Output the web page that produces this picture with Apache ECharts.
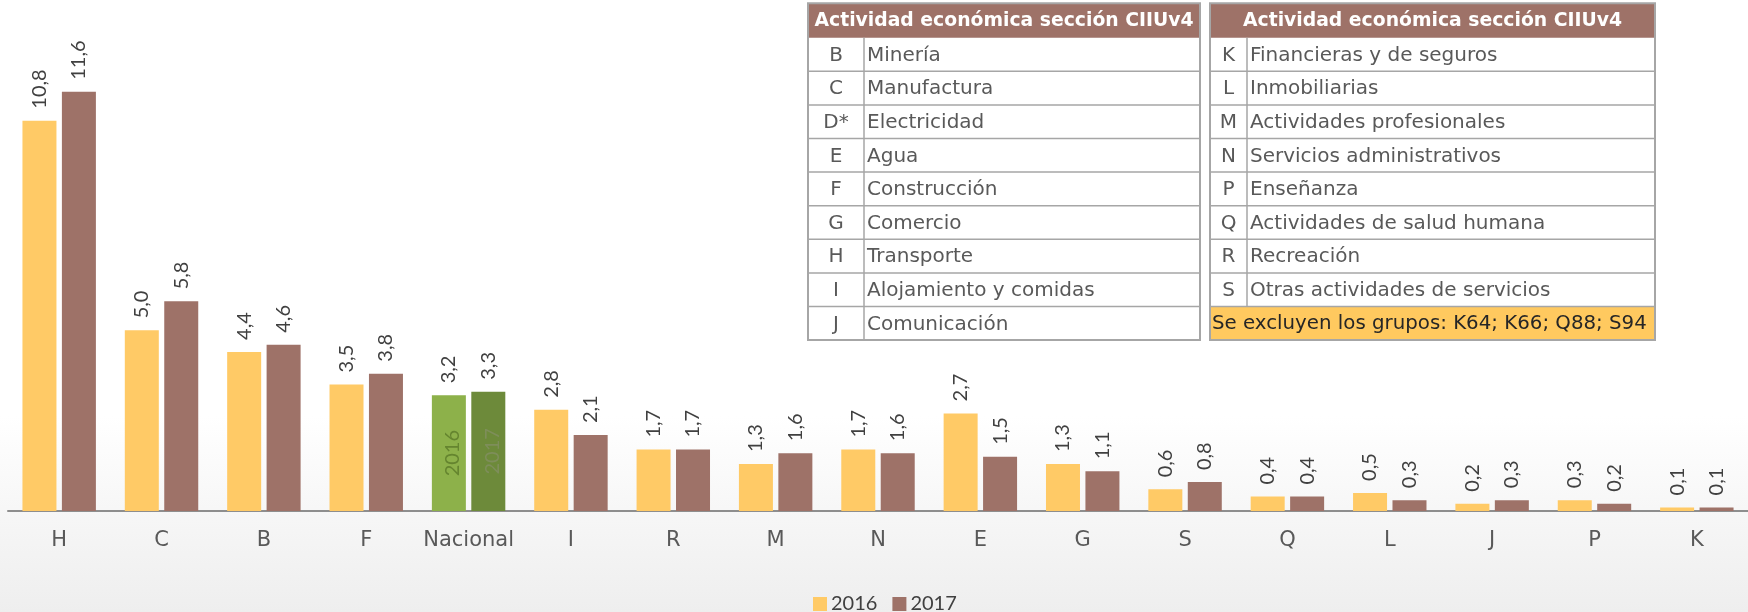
<!DOCTYPE html>
<html>
<head>
<meta charset="utf-8">
<script src="https://cdn.jsdelivr.net/npm/echarts@6/dist/echarts.min.js"></script>
<style>
  html, body { margin: 0; padding: 0; background: #fff; }
  #chart { width: 1748px; height: 612px; }
</style>
</head>
<body>
<div id="chart"></div>
<script>
// Sector codes (CIIU Rev.4 sections) plus the national total
const categories = ['H', 'C', 'B', 'F', 'Nacional', 'I', 'R', 'M', 'N', 'E', 'G', 'S', 'Q', 'L', 'J', 'P', 'K'];
const values2016 = [10.8, 5.0, 4.4, 3.5, 3.2, 2.8, 1.7, 1.3, 1.7, 2.7, 1.3, 0.6, 0.4, 0.5, 0.2, 0.3, 0.1];
const values2017 = [11.6, 5.8, 4.6, 3.8, 3.3, 2.1, 1.7, 1.6, 1.6, 1.5, 1.1, 0.8, 0.4, 0.3, 0.3, 0.2, 0.1];
const seriesNames = ['2016', '2017'];
const totalCategory = 'Nacional';

// Reference table of economic activity sections
const tableTitle = 'Actividad económica sección CIIUv4';
const leftCodes = ['B', 'C', 'D*', 'E', 'F', 'G', 'H', 'I', 'J'];
const leftNames = ['Minería', 'Manufactura', 'Electricidad', 'Agua', 'Construcción', 'Comercio', 'Transporte', 'Alojamiento y comidas', 'Comunicación'];
const rightCodes = ['K', 'L', 'M', 'N', 'P', 'Q', 'R', 'S'];
const rightNames = ['Financieras y de seguros', 'Inmobiliarias', 'Actividades profesionales', 'Servicios administrativos', 'Enseñanza', 'Actividades de salud humana', 'Recreación', 'Otras actividades de servicios'];
const exclusionNote = 'Se excluyen los grupos: K64; K66; Q88; S94';

const FONT = 'Lato, "Noto Sans", sans-serif';
const WIDE = '"DejaVu Sans", "Noto Sans", sans-serif';
const C16 = '#FFCA66';
const C17 = '#9E7268';
const G16 = '#8DB14A';
const G17 = '#6D8A3A';
const HEADER = '#9E7268';
const NOTE_BG = '#FFC95F';
const BORDER = '#A6A6A6';

const fmt = v => v.toFixed(1).replace('.', ',');

function barData(values, yearIdx) {
  return values.map((v, i) => {
    if (categories[i] !== totalCategory) return v;
    return {
      value: v,
      itemStyle: { color: yearIdx === 0 ? G16 : G17 },
      label: {
        show: true,
        position: 'inside',
        rotate: 90,
        formatter: seriesNames[yearIdx],
        color: yearIdx === 0 ? '#65852F' : '#7E8E5A',
        fontSize: 20,
        fontFamily: FONT,
        offset: [0, 4]
      }
    };
  });
}

function topLabelSeries(values, stack) {
  return {
    name: 'label-' + stack,
    type: 'bar',
    stack: stack,
    barWidth: 34,
    barGap: '16%',
    silent: true,
    itemStyle: { color: 'rgba(0,0,0,0)' },
    data: values.map(() => 0),
    label: {
      show: true,
      position: 'top',
      rotate: 90,
      align: 'left',
      verticalAlign: 'middle',
      distance: 12,
      fontSize: 20,
      fontFamily: FONT,
      color: '#404040',
      formatter: p => fmt(values[p.dataIndex])
    }
  };
}

// Table drawn with graphic primitives
function buildTable(x, w, codeW, codes, names, note) {
  const top = 3.3, headH = 34.4, rowH = 33.6;
  const els = [];
  const nRows = codes.length + (note ? 1 : 0);
  const bottom = top + headH + nRows * rowH;
  els.push({ type: 'rect', shape: { x: x, y: top + headH, width: w, height: bottom - top - headH }, style: { fill: '#fff' } });
  els.push({ type: 'rect', shape: { x: x, y: top, width: w, height: headH }, style: { fill: HEADER } });
  els.push({
    type: 'text',
    style: { text: tableTitle, x: x + w / 2, y: top + headH / 2 + 1, align: 'center', verticalAlign: 'middle',
             fill: '#fff', fontSize: 18.8, fontWeight: 'bold', fontFamily: WIDE }
  });
  codes.forEach((c, i) => {
    const y = top + headH + i * rowH;
    els.push({
      type: 'text',
      style: { text: c, x: x + codeW / 2, y: y + rowH / 2 + 1, align: 'center', verticalAlign: 'middle',
               fill: '#595959', fontSize: 20, fontFamily: WIDE }
    });
    els.push({
      type: 'text',
      style: { text: names[i], x: x + codeW + 3, y: y + rowH / 2 + 1, align: 'left', verticalAlign: 'middle',
               fill: '#595959', fontSize: 20, fontFamily: WIDE }
    });
  });
  if (note) {
    const y = top + headH + codes.length * rowH;
    els.push({ type: 'rect', shape: { x: x, y: y, width: w, height: rowH }, style: { fill: NOTE_BG } });
    els.push({
      type: 'text',
      style: { text: note, x: x + 2, y: y + rowH / 2 + 1, align: 'left', verticalAlign: 'middle',
               fill: '#262626', fontSize: 19.8, fontFamily: WIDE }
    });
  }
  // grid lines
  for (let i = 1; i < nRows; i++) {
    const y = top + headH + i * rowH;
    els.push({ type: 'line', shape: { x1: x, y1: y, x2: x + w, y2: y }, style: { stroke: BORDER, lineWidth: 1.5 } });
  }
  els.push({ type: 'line', shape: { x1: x + codeW, y1: top + headH, x2: x + codeW, y2: top + headH + codes.length * rowH },
             style: { stroke: BORDER, lineWidth: 1.5 } });
  els.push({ type: 'rect', shape: { x: x, y: top, width: w, height: bottom - top },
             style: { fill: 'none', stroke: BORDER, lineWidth: 2 } });
  return els;
}

const chart = echarts.init(document.getElementById('chart'), null, { renderer: 'canvas' });

chart.setOption({
  backgroundColor: {
    type: 'linear', x: 0, y: 0, x2: 0, y2: 1,
    colorStops: [
      { offset: 0, color: '#ffffff' },
      { offset: 0.68, color: '#ffffff' },
      { offset: 1, color: '#eeeeee' }
    ]
  },
  animation: false,
  textStyle: { fontFamily: FONT },
  grid: { left: 8, right: -5, top: 5, bottom: 101 },
  legend: {
    data: seriesNames,
    left: 808,
    top: 589,
    itemWidth: 14,
    itemHeight: 14,
    itemGap: 15,
    icon: 'rect',
    textStyle: { fontSize: 20, color: '#404040', fontFamily: FONT, padding: [0, 0, 0, -1] }
  },
  xAxis: {
    type: 'category',
    data: categories,
    axisLine: { lineStyle: { color: '#8E8E8E', width: 2 } },
    axisTick: { show: false },
    axisLabel: { color: '#595959', fontSize: 21, fontFamily: WIDE, margin: 19, interval: 0 }
  },
  yAxis: {
    type: 'value',
    min: 0,
    max: 14,
    show: false,
    splitLine: { show: false }
  },
  series: [
    {
      name: seriesNames[0], type: 'bar', stack: 's16', barWidth: 34, barGap: '16%',
      itemStyle: { color: C16 },
      data: barData(values2016, 0)
    },
    topLabelSeries(values2016, 's16'),
    {
      name: seriesNames[1], type: 'bar', stack: 's17', barWidth: 34, barGap: '16%',
      itemStyle: { color: C17 },
      data: barData(values2017, 1)
    },
    topLabelSeries(values2017, 's17')
  ],
  graphic: [
    ...buildTable(808, 392, 56, leftCodes, leftNames, null),
    ...buildTable(1210, 445, 37, rightCodes, rightNames, exclusionNote)
  ]
});
</script>
</body>
</html>
